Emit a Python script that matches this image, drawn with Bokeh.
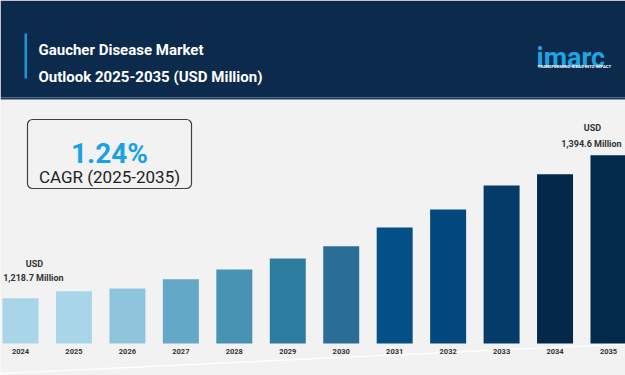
from bokeh.plotting import figure
from bokeh.models import BoxAnnotation, Label, Range1d
from bokeh.core.properties import value
from bokeh.embed import file_html
from bokeh.resources import INLINE

# ---------------- data ----------------
years = ["2024", "2025", "2026", "2027", "2028", "2029",
         "2030", "2031", "2032", "2033", "2034", "2035"]
market_usd_million = [1218.7, 1227.3, 1230.6, 1242.1, 1254.0, 1267.6,
                      1282.7, 1305.7, 1327.8, 1357.3, 1371.2, 1394.6]
bar_colors = ["#a8d5e7", "#a9d5e8", "#8ec5dc", "#63a8c7", "#4892b3", "#2c7ca0",
              "#2a6d96", "#044f86", "#03477f", "#043b68", "#04284a", "#03294b"]
title_lines = ["Gaucher Disease Market", "Outlook 2025-2035 (USD Million)"]
cagr_value = "1.24%"
cagr_label = "CAGR (2025-2035)"
baseline_value = 1163.0

# ---------------- layout helpers ----------------
W, H = 625, 375
x_start, x_end = -0.374, 11.318
y_start, y_end = 1123.6, 1584.9

def X(px):
    return x_start + px / W * (x_end - x_start)

def Y(py):
    return y_end - py / H * (y_end - y_start)

BG = "#f2f2f2"
NAVY = "#0c2a4b"

p = figure(width=W, height=H, output_backend="svg", toolbar_location=None,
           x_range=Range1d(x_start, x_end), y_range=Range1d(y_start, y_end),
           min_border=0, min_border_left=0, min_border_right=0,
           min_border_top=0, min_border_bottom=0)
p.axis.visible = False
p.grid.visible = False
p.outline_line_color = None
p.background_fill_color = BG
p.border_fill_color = BG

idx = list(range(len(years)))

# floor line (decorative)
p.line(x=[X(0), X(625)], y=[Y(373), Y(343.5)], line_color="white",
       line_width=1.5, line_alpha=0.9, level="underlay")

# bars
p.vbar(x=idx, top=market_usd_million, bottom=baseline_value, width=0.673,
       fill_color=bar_colors, line_color=None)

# year labels
p.text(x=idx, y=[Y(351)] * len(idx), text=years, text_align="center",
       text_baseline="middle", text_font=value("Roboto"), text_font_style="bold",
       text_font_size="7.5px", text_color="#333333")

# header
p.add_layout(BoxAnnotation(bottom=Y(97), fill_color=NAVY, fill_alpha=1.0,
                           line_color=None))
p.add_layout(BoxAnnotation(top=Y(97), bottom=Y(99), fill_color="#1d3f5c",
                           fill_alpha=1.0, line_color=None))
p.add_layout(BoxAnnotation(left=X(24), right=X(26.5), top=Y(33), bottom=Y(78),
                           fill_color="#1e94d8", fill_alpha=1.0, line_color=None))
title_font = "Roboto"
p.add_layout(Label(x=X(38), y=Y(49), text=title_lines[0], text_color="white",
                   text_font=title_font, text_font_style="bold", text_font_size="15px",
                   text_baseline="alphabetic"))
p.add_layout(Label(x=X(38), y=Y(76), text=title_lines[1], text_color="white",
                   text_font=title_font, text_font_style="bold", text_font_size="15px",
                   text_baseline="alphabetic"))
p.add_layout(Label(x=X(536), y=Y(57), text="imarc", text_color="#1ea4e3",
                   text_font="Roboto", text_font_style="bold", text_font_size="27px",
                   text_baseline="alphabetic"))
p.add_layout(Label(x=X(537), y=Y(66), text="TRANSFORMING IDEAS INTO IMPACT",
                   text_color="white", text_font="Roboto", text_font_style="bold",
                   text_font_size="4.3px", text_baseline="alphabetic"))

# CAGR box
p.add_layout(BoxAnnotation(left=X(27), right=X(191), top=Y(119), bottom=Y(188),
                           fill_color=BG, fill_alpha=1.0, line_color="#404040",
                           line_alpha=1.0, line_width=1.2, border_radius=5))
p.add_layout(Label(x=X(109), y=Y(153), text=cagr_value, text_color="#1ba1e6",
                   text_font="Roboto", text_font_style="bold", text_font_size="28px",
                   text_align="center", text_baseline="alphabetic"))
p.add_layout(Label(x=X(109), y=Y(176), text=cagr_label, text_color="#222222",
                   text_font="Roboto", text_font_size="17px",
                   text_align="center", text_baseline="alphabetic"))

# value labels on first and last bars
def value_labels(i, dx, dy_usd, dy_val):
    v = market_usd_million[i]
    p.add_layout(Label(x=i, y=v, x_offset=dx, y_offset=dy_usd, text="USD",
                       text_color="#333333", text_font="Roboto", text_font_style="bold",
                       text_font_size="9px", text_align="center",
                       text_baseline="middle"))
    p.add_layout(Label(x=i, y=v, x_offset=dx, y_offset=dy_val,
                       text=f"{v:,.1f}  Million", text_color="#333333",
                       text_font="Roboto", text_font_style="bold",
                       text_font_size="9px", text_align="center",
                       text_baseline="middle"))

value_labels(0, 14, 34, 20)
value_labels(len(years) - 1, -16, 27, 11)

open("out.html", "w").write(file_html(p, INLINE))
